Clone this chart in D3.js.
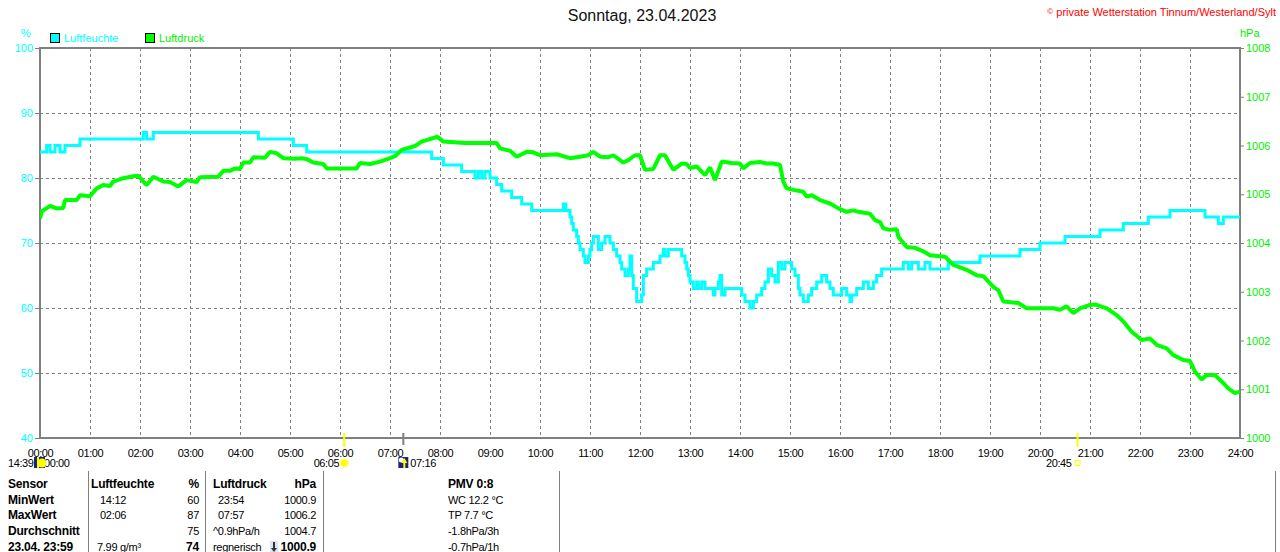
<!DOCTYPE html>
<html>
<head>
<meta charset="utf-8">
<script src="https://cdn.jsdelivr.net/npm/d3@7"></script>
<style>
  body { margin: 0; background: #fff; }
  svg { display: block; font-family: "Liberation Sans", Arial, sans-serif; }
</style>
</head>
<body>
<div id="chart"></div>
<script>
// Axis labels
const hourLabels = d3.range(0, 25).map((h) => String(h).padStart(2, "0") + ":00");
const humTicks = [40, 50, 60, 70, 80, 90, 100];
const pressTicks = [1000, 1001, 1002, 1003, 1004, 1005, 1006, 1007, 1008];
const legendLabels = ["Luftfeuchte", "Luftdruck"];

// Luftfeuchte (%), step values
const humTimes = ["00:00","00:08","00:12","00:18","00:24","00:30","00:48","02:04","02:08","02:16",
  "04:22","05:04","05:20","07:50","08:04","08:26","08:42","08:46","08:50","08:54","09:00","09:08",
  "09:14","09:26","09:38","09:50","10:28","10:31","10:36","10:38","10:40","10:44","10:46","10:48",
  "10:52","10:54","10:58","11:00","11:02","11:04","11:10","11:14","11:18","11:24","11:28","11:32",
  "11:36","11:38","11:42","11:46","11:48","11:50","11:52","11:56","12:02","12:04","12:08","12:16",
  "12:24","12:28","12:30","12:34","12:42","12:50","12:54","12:56","12:58","13:00","13:04","13:08",
  "13:10","13:14","13:18","13:28","13:30","13:34","13:36","13:38","13:42","14:02","14:06","14:12",
  "14:16","14:20","14:26","14:30","14:34","14:38","14:42","14:46","14:50","14:54","15:02","15:06",
  "15:10","15:12","15:16","15:22","15:26","15:32","15:38","15:44","15:48","15:52","16:02","16:08",
  "16:12","16:14","16:20","16:28","16:34","16:40","16:44","16:50","17:16","17:22","17:26","17:34",
  "17:42","17:48","18:10","18:48","19:36","20:00","20:30","21:12","21:40","22:10","22:36","23:18",
  "23:34","23:40","24:00"];
const humValues = [84,85,84,85,84,85,86,87,86,87,
  86,85,84,83,82,81,80,81,80,81,80,79,
  78,77,76,75,76,75,74,73,72,71,70,69,
  68,67,68,69,70,71,69,70,71,70,69,68,
  67,66,65,66,68,65,63,61,62,65,66,67,
  68,69,68,69,69,68,67,66,65,64,63,64,
  63,64,63,62,63,64,65,62,63,62,61,60,
  61,62,63,64,66,65,64,67,66,67,66,65,
  63,62,61,62,63,64,65,64,63,62,63,62,
  61,62,63,64,63,64,65,66,67,66,67,66,
  67,66,67,68,69,70,71,72,73,74,75,74,
  73,74,74];

// Luftdruck (hPa)
const pressTimes = ["00:00","00:02","00:12","00:20","00:28","00:30","00:44","00:48","01:00","01:08",
  "01:16","01:24","01:28","01:40","01:52","01:58","02:04","02:08","02:16","02:28","02:36","02:46",
  "02:56","03:08","03:12","03:34","03:40","03:48","03:54","04:00","04:04","04:12","04:16","04:30",
  "04:36","04:44","04:52","05:06","05:14","05:20","05:28","05:40","05:44","06:20","06:24","06:36",
  "06:48","07:00","07:06","07:14","07:30","07:38","07:57","08:04","08:30","09:08","09:12","09:24",
  "09:32","09:44","09:52","10:00","10:20","10:36","10:48","10:58","11:04","11:12","11:22","11:28",
  "11:36","11:40","11:46","11:54","12:00","12:06","12:16","12:24","12:30","12:40","12:50","12:56",
  "13:00","13:08","13:18","13:24","13:30","13:38","13:50","14:00","14:04","14:12","14:24","14:32",
  "14:40","14:48","14:52","14:56","15:04","15:16","15:20","15:26","15:36","15:48","15:58","16:08",
  "16:16","16:22","16:36","16:42","16:48","16:52","17:00","17:08","17:10","17:20","17:30","17:40",
  "17:48","18:06","18:16","18:32","18:44","18:52","19:04","19:10","19:16","19:34","19:44","20:16",
  "20:24","20:32","20:40","20:48","21:00","21:06","21:20","21:32","21:40","21:50","22:02","22:12",
  "22:20","22:32","22:40","22:52","23:00","23:06","23:14","23:20","23:30","23:38","23:46","23:54",
  "24:00"];
const pressValues = [1004.5,1004.65,1004.76,1004.71,1004.72,1004.88,1004.88,1004.98,1004.96,1005.12,
  1005.19,1005.17,1005.26,1005.33,1005.37,1005.38,1005.26,1005.19,1005.36,1005.26,1005.25,1005.16,
  1005.29,1005.25,1005.35,1005.36,1005.48,1005.48,1005.53,1005.52,1005.65,1005.65,1005.76,1005.75,
  1005.87,1005.84,1005.74,1005.73,1005.74,1005.72,1005.65,1005.62,1005.53,1005.53,1005.64,1005.62,
  1005.67,1005.74,1005.78,1005.91,1005.99,1006.08,1006.18,1006.08,1006.05,1006.05,1005.94,1005.89,
  1005.77,1005.87,1005.86,1005.8,1005.82,1005.74,1005.77,1005.8,1005.87,1005.77,1005.76,1005.8,
  1005.7,1005.65,1005.7,1005.8,1005.8,1005.5,1005.52,1005.8,1005.8,1005.5,1005.63,1005.62,
  1005.54,1005.57,1005.39,1005.55,1005.29,1005.67,1005.64,1005.63,1005.53,1005.64,1005.66,1005.63,
  1005.63,1005.6,1005.26,1005.12,1005.09,1005.05,1004.95,1004.98,1004.88,1004.81,1004.71,1004.64,
  1004.67,1004.64,1004.6,1004.47,1004.43,1004.3,1004.27,1004.28,1004.13,1003.92,1003.9,1003.83,
  1003.75,1003.72,1003.55,1003.45,1003.34,1003.32,1003.1,1003.03,1002.8,1002.77,1002.66,1002.66,
  1002.63,1002.7,1002.56,1002.66,1002.73,1002.74,1002.66,1002.52,1002.39,1002.18,1002.01,1002.04,
  1001.91,1001.84,1001.7,1001.6,1001.58,1001.36,1001.2,1001.29,1001.29,1001.16,1001.02,1000.92,
  1000.95];

// Sun / moon times below the axis
const astroTimes = ["06:05", "07:16", "20:45"];

// Table below the chart
const tableSensor = ["Sensor", "MinWert", "MaxWert", "Durchschnitt", "23.04.  23:59"];
const tableHumText = ["Luftfeuchte", "14:12", "02:06", "", "7.99 g/m³"];
const tableHumVal = ["%", "60", "87", "75", "74"];
const tablePressText = ["Luftdruck", "23:54", "07:57", "^0.9hPa/h", "regnerisch"];
const tablePressVal = ["hPa", "1000.9", "1006.2", "1004.7", "1000.9"];
const tableExtra = ["PMV 0:8", "WC 12.2 °C", "TP 7.7 °C", "-1.8hPa/3h", "-0.7hPa/1h"];

const toHours = (t) => {
  const [h, m] = t.split(":").map(Number);
  return h + m / 60;
};

class Wetterchart {
  constructor(_config) {
    this.config = {
      parentElement: _config.parentElement,
      containerWidth: 1280,
      containerHeight: 552,
      margin: { top: 48, right: 40, bottom: 114, left: 40 },
    };
    this.initVis();
  }

  initVis() {
    let vis = this;
    const m = vis.config.margin;

    vis.svg = d3
      .select(vis.config.parentElement)
      .append("svg")
      .attr("width", vis.config.containerWidth)
      .attr("height", vis.config.containerHeight);

    vis.width = vis.config.containerWidth - m.left - m.right;
    vis.height = vis.config.containerHeight - m.top - m.bottom;

    vis.x = d3.scaleLinear().domain([0, 24]).range([m.left, m.left + vis.width]);
    vis.yHum = d3.scaleLinear().domain([40, 100]).range([m.top + vis.height, m.top]);
    vis.yPress = d3.scaleLinear().domain([1000, 1008]).range([m.top + vis.height, m.top]);

    // Title and copyright
    vis.svg.append("text")
      .attr("x", 642).attr("y", 21)
      .attr("text-anchor", "middle")
      .style("font-size", "16px")
      .style("fill", "#111")
      .text("Sonntag, 23.04.2023");

    vis.svg.append("text")
      .attr("x", 1276).attr("y", 16)
      .attr("text-anchor", "end")
      .style("font-size", "11px")
      .style("fill", "#ff0000")
      .html('<tspan style="font-size:8px" dy="-2">©</tspan><tspan dy="2"> private Wetterstation Tinnum/Westerland/Sylt</tspan>');

    // Units
    vis.svg.append("text")
      .attr("x", 26).attr("y", 37)
      .attr("text-anchor", "middle")
      .style("font-size", "11px").style("fill", "#00ffff")
      .text("%");
    vis.svg.append("text")
      .attr("x", 1240).attr("y", 37)
      .style("font-size", "11px").style("fill", "#00ee00")
      .text("hPa");

    // Legend
    const legendColors = ["#00ffff", "#00ff00"];
    const legendX = [50, 145];
    const legend = vis.svg.selectAll(".legend")
      .data(legendLabels)
      .join("g")
      .attr("class", "legend")
      .attr("transform", (d, i) => `translate(${legendX[i]},33)`);
    legend.append("rect")
      .attr("x", 0.5).attr("y", 0.5)
      .attr("width", 9).attr("height", 9)
      .attr("fill", (d, i) => legendColors[i])
      .attr("stroke", "#000");
    legend.append("text")
      .attr("x", 14).attr("y", 9)
      .style("font-size", "11px")
      .style("fill", (d, i) => (i === 0 ? "#00ffff" : "#00ee00"))
      .text((d) => d);

    vis.renderVis();
  }

  renderVis() {
    let vis = this;
    const m = vis.config.margin;
    const bottom = m.top + vis.height;
    const right = m.left + vis.width;

    // Grid
    const grid = vis.svg.append("g")
      .attr("stroke", "#808080")
      .attr("stroke-width", 1)
      .attr("stroke-dasharray", "3,3")
      .attr("shape-rendering", "crispEdges");
    grid.selectAll(".vgrid")
      .data(d3.range(1, 24))
      .join("line")
      .attr("x1", (d) => vis.x(d)).attr("x2", (d) => vis.x(d))
      .attr("y1", m.top).attr("y2", bottom);
    grid.selectAll(".hgrid")
      .data(humTicks.slice(1, -1))
      .join("line")
      .attr("x1", m.left).attr("x2", right)
      .attr("y1", (d) => vis.yHum(d)).attr("y2", (d) => vis.yHum(d));

    // Left axis (Luftfeuchte)
    const leftAxis = vis.svg.append("g")
      .attr("transform", `translate(${m.left},0)`)
      .call(d3.axisLeft(vis.yHum).tickValues(humTicks).tickSize(5).tickPadding(2));
    leftAxis.select(".domain").remove();
    leftAxis.selectAll("line").attr("stroke", "#808080");
    leftAxis.selectAll("text")
      .style("font-size", "11px")
      .style("font-family", "Liberation Sans, Arial, sans-serif")
      .attr("fill", "#00ffff");

    // Right axis (Luftdruck)
    const rightAxis = vis.svg.append("g")
      .attr("transform", `translate(${right},0)`)
      .call(d3.axisRight(vis.yPress).tickValues(pressTicks).tickFormat(d3.format("d")).tickSize(4).tickPadding(2));
    rightAxis.select(".domain").remove();
    rightAxis.selectAll("line").attr("stroke", "#808080");
    rightAxis.selectAll("text")
      .style("font-size", "11px")
      .style("font-family", "Liberation Sans, Arial, sans-serif")
      .attr("fill", "#00ee00");

    // Bottom axis (hours)
    const xAxis = vis.svg.append("g")
      .attr("transform", `translate(0,${bottom})`)
      .call(d3.axisBottom(vis.x)
        .tickValues(d3.range(0, 25))
        .tickFormat((d) => hourLabels[d])
        .tickSize(0).tickPadding(11));
    xAxis.select(".domain").remove();
    xAxis.selectAll("text")
      .style("font-size", "11px")
      .style("letter-spacing", "-0.4px")
      .style("font-family", "Liberation Sans, Arial, sans-serif")
      .attr("fill", "#000");

    // Frame
    vis.svg.append("rect")
      .attr("x", m.left).attr("y", m.top)
      .attr("width", vis.width).attr("height", vis.height)
      .attr("fill", "none")
      .attr("stroke", "#808080")
      .attr("stroke-width", 2);

    // Astro markers on the x axis
    const astroColors = ["#ffff00", "#808080", "#ffff00"];
    vis.svg.selectAll(".astro-tick")
      .data(astroTimes)
      .join("line")
      .attr("class", "astro-tick")
      .attr("x1", (d) => vis.x(toHours(d))).attr("x2", (d) => vis.x(toHours(d)))
      .attr("y1", bottom - 5).attr("y2", (d, i) => (i === 1 ? bottom + 7 : bottom + 9))
      .attr("stroke", (d, i) => astroColors[i])
      .attr("stroke-width", 2);

    const astroRow = 467;
    const labelStyle = (sel) => sel.style("font-size", "11px").style("letter-spacing", "-0.4px").attr("fill", "#000");

    // moonset 14:39 before the chart starts
    vis.svg.append("text").attr("x", 8).attr("y", astroRow).call(labelStyle).text("14:39");
    vis.svg.append("text").attr("x", 44).attr("y", astroRow).call(labelStyle).text("00:00");
    vis.svg.append("rect").attr("x", 34).attr("y", 457).attr("width", 11).attr("height", 11).attr("fill", "#1a237e");
    vis.svg.append("circle").attr("cx", 42).attr("cy", 463).attr("r", 4.5).attr("fill", "#ffff00");
    vis.svg.append("rect").attr("x", 37).attr("y", 457).attr("width", 2).attr("height", 11).attr("fill", "#ffff00");

    // sunrise
    const sx = vis.x(toHours(astroTimes[0]));
    vis.svg.append("text").attr("x", sx - 5).attr("y", astroRow).attr("text-anchor", "end").call(labelStyle).text(astroTimes[0]);
    vis.svg.append("circle").attr("cx", sx).attr("cy", 463).attr("r", 5).attr("fill", "#ffffaa");
    vis.svg.append("circle").attr("cx", sx).attr("cy", 463).attr("r", 3.5).attr("fill", "#ffff00");

    // moonrise
    const mx = vis.x(toHours(astroTimes[1]));
    vis.svg.append("rect").attr("x", mx - 5).attr("y", 457).attr("width", 10).attr("height", 11).attr("fill", "#1a237e");
    vis.svg.append("circle").attr("cx", mx - 2).attr("cy", 460).attr("r", 2.5).attr("fill", "#fff");
    vis.svg.append("path").attr("d", `M${mx + 1},458 L${mx + 4},463 L${mx + 2},463 L${mx + 2},468 L${mx},468 L${mx},463 L${mx - 2},463 Z`).attr("fill", "#ffff00");
    vis.svg.append("text").attr("x", mx + 7).attr("y", astroRow).call(labelStyle).text(astroTimes[1]);

    // sunset
    const ex = vis.x(toHours(astroTimes[2]));
    vis.svg.append("text").attr("x", ex - 6).attr("y", astroRow).attr("text-anchor", "end").call(labelStyle).text(astroTimes[2]);
    vis.svg.append("rect").attr("x", ex - 2.5).attr("y", 460.5).attr("width", 5).attr("height", 5).attr("fill", "#fff").attr("stroke", "#ffff00");

    // Data lines
    vis.svg.append("clipPath").attr("id", "plot-clip")
      .append("rect").attr("x", m.left).attr("y", m.top - 2).attr("width", vis.width).attr("height", vis.height + 2);

    const humData = humTimes.map((t, i) => ({ t: toHours(t), v: humValues[i] }));
    const pressData = pressTimes.map((t, i) => ({ t: toHours(t), v: pressValues[i] }));

    const humLine = d3.line()
      .x((d) => vis.x(d.t))
      .y((d) => vis.yHum(d.v))
      .curve(d3.curveStepAfter);
    const pressLine = d3.line()
      .x((d) => vis.x(d.t))
      .y((d) => vis.yPress(d.v));

    const lines = vis.svg.append("g").attr("clip-path", "url(#plot-clip)");
    lines.append("path")
      .datum(humData)
      .attr("d", humLine)
      .attr("fill", "none")
      .attr("stroke", "#00ffff")
      .attr("stroke-width", 3);
    lines.append("path")
      .datum(pressData)
      .attr("d", pressLine)
      .attr("fill", "none")
      .attr("stroke", "#00ff00")
      .attr("stroke-width", 4)
      .attr("stroke-linejoin", "bevel");

    // Table
    const table = vis.svg.append("g").style("font-size", "11px");
    const rowY = (i) => 488 + i * 15.7;
    table.selectAll(".sep")
      .data([88, 205, 323, 559, 1275])
      .join("line")
      .attr("x1", (d) => d + 0.5).attr("x2", (d) => d + 0.5)
      .attr("y1", 471).attr("y2", 552)
      .attr("stroke", "#808080");

    const col = (arr, x, anchor, boldRows, xOffsets) => {
      table.selectAll(null)
        .data(arr)
        .join("text")
        .attr("x", (d, i) => x + (xOffsets ? xOffsets[i] : 0))
        .attr("y", (d, i) => rowY(i))
        .attr("text-anchor", anchor)
        .style("font-weight", (d, i) => (boldRows.includes(i) ? "bold" : "normal"))
        .style("font-size", (d, i) => (boldRows.includes(i) ? "12px" : "11px"))
        .style("letter-spacing", (d, i) => (boldRows.includes(i) ? "-0.2px" : "-0.3px"))
        .attr("fill", "#000")
        .text((d) => d);
    };
    col(tableSensor, 8, "start", [0, 1, 2, 3, 4]);
    col(tableHumText, 91, "start", [0], [0, 9, 9, 0, 6]);
    col(tableHumVal, 199, "end", [0, 4]);
    col(tablePressText, 213, "start", [0], [0, 5, 5, 0, 0]);
    col(tablePressVal, 316, "end", [0, 4]);
    col(tableExtra, 448, "start", [0]);

    // falling pressure arrow icon
    table.append("rect").attr("x", 270).attr("y", 541).attr("width", 8).attr("height", 11).attr("fill", "#dde6f5");
    table.append("path").attr("d", "M273,542 L275,542 L275,548 L277,548 L274,552 L271,548 L273,548 Z").attr("fill", "#333");
  }
}

new Wetterchart({ parentElement: "#chart" });
</script>
</body>
</html>
